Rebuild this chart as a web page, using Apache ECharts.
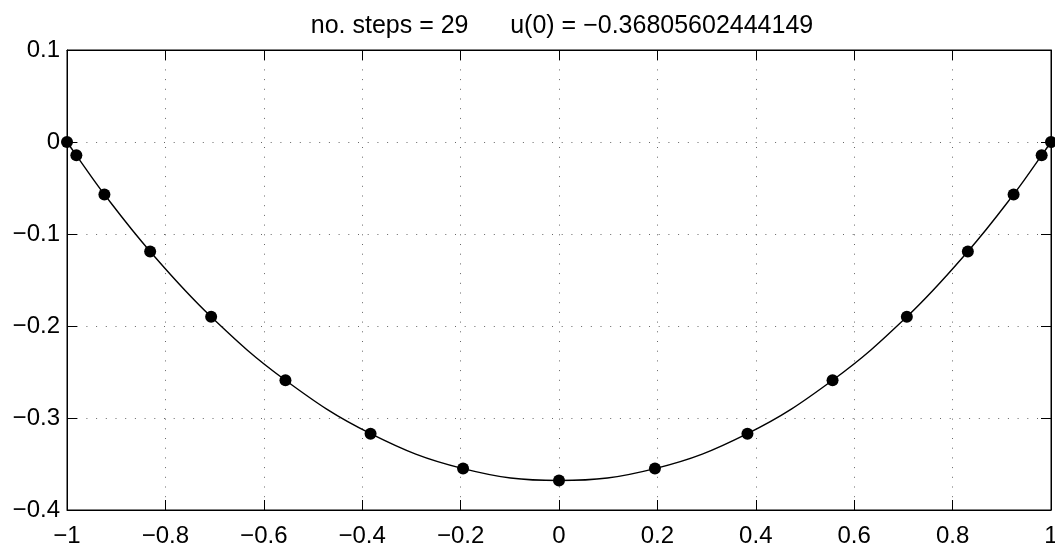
<!DOCTYPE html>
<html>
<head>
<meta charset="utf-8">
<script src="https://cdn.jsdelivr.net/npm/echarts@6/dist/echarts.min.js"></script>
<style>
  html, body { margin: 0; padding: 0; background: #fff; }
  #chart { width: 1055px; height: 544px; }
</style>
</head>
<body>
<div id="chart"></div>
<script>
// grid points and the values at them
const xPoints = [-1, -0.981, -0.924, -0.831, -0.707, -0.556, -0.383, -0.195, 0,
                 0.195, 0.383, 0.556, 0.707, 0.831, 0.924, 0.981, 1];
const uValues = [0, -0.0145, -0.057, -0.119, -0.190, -0.259, -0.317, -0.355, -0.368,
                 -0.355, -0.317, -0.259, -0.190, -0.119, -0.057, -0.0145, 0];
const titleText = 'no. steps = 29      u(0) = \u22120.36805602444149';

const font = '"Liberation Sans", Arial, Helvetica, sans-serif';
const minus = v => String(+v.toFixed(2)).replace('-', '\u2212');

const pts = xPoints.map((x, i) => [x, uValues[i]]);

const chart = echarts.init(document.getElementById('chart'));

const gridLine = { show: true, lineStyle: { color: '#666', type: [1, 8.7], width: 1 } };
const tick = { inside: true, length: 10, lineStyle: { color: '#000' } };
const axLine = { show: true, onZero: false, lineStyle: { color: '#000' } };

chart.setOption({
  animation: false,
  title: {
    text: titleText,
    left: 557,
    textAlign: 'center',
    top: 9,
    textStyle: { fontFamily: font, fontSize: 25, fontWeight: 'normal', color: '#000' }
  },
  grid: {
    left: 67, right: 4, top: 50, bottom: 34,
    outerBoundsMode: 'none', containLabel: false,
    show: true, borderColor: '#000', borderWidth: 1
  },
  xAxis: [
    {
      type: 'value', min: -1, max: 1, interval: 0.2,
      axisLine: axLine, axisTick: tick,
      axisLabel: { color: '#000', fontFamily: font, fontSize: 24, margin: 14, formatter: minus },
      splitLine: gridLine
    },
    {
      type: 'value', min: -1, max: 1, interval: 0.2, position: 'top',
      axisLine: axLine, axisTick: tick,
      axisLabel: { show: false }, splitLine: { show: false }
    }
  ],
  yAxis: [
    {
      type: 'value', min: -0.4, max: 0.1, interval: 0.1,
      axisLine: axLine, axisTick: tick,
      axisLabel: { color: '#000', fontFamily: font, fontSize: 24, margin: 7, formatter: minus },
      splitLine: gridLine
    },
    {
      type: 'value', min: -0.4, max: 0.1, interval: 0.1, position: 'right',
      axisLine: axLine, axisTick: tick,
      axisLabel: { show: false }, splitLine: { show: false }
    }
  ],
  series: [
    {
      type: 'line',
      data: pts,
      smooth: 0.4,
      showSymbol: false,
      lineStyle: { color: '#000', width: 1.4 },
      silent: true
    },
    {
      type: 'scatter',
      data: pts,
      symbol: 'circle',
      symbolSize: 12,
      itemStyle: { color: '#000', opacity: 1 },
      silent: true
    }
  ]
});
</script>
</body>
</html>
